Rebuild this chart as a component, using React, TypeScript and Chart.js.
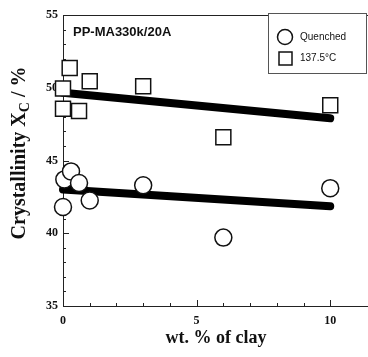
import React, { useEffect, useRef } from "react";
import { Chart, registerables } from "chart.js";

Chart.register(...registerables);

// Clay loading (wt. %) for each sample
const quenchedX = [0, 0.05, 0.3, 0.6, 1.0, 3.0, 6.0, 10.0];
const quenchedY = [41.8, 43.7, 44.25, 43.45, 42.25, 43.3, 39.7, 43.1];

const isoX = [0, 0, 0.25, 0.6, 1.0, 3.0, 6.0, 10.0];
const isoY = [48.55, 49.95, 51.35, 48.4, 50.45, 50.1, 46.6, 48.8];

// Linear trend lines (start, end)
const trendX = [0, 10];
const quenchedTrend = [43.0, 41.85];
const isoTrend = [49.65, 47.9];

const xTickLabels = [0, 5, 10];
const yTickLabels = [35, 40, 45, 50, 55];

const seriesNames = ["Quenched", "137.5°C"];
const panelTitle = "PP-MA330k/20A";

const toPoints = (xs: number[], ys: number[]) => xs.map((x, i) => ({ x, y: ys[i] }));

const axesPlugin = {
  id: "paperAxes",
  beforeDatasetsDraw(chart: any) {
    const { ctx, chartArea, scales } = chart;
    const xs = scales.x;
    const ys = scales.y;
    const { left, top, bottom } = chartArea;
    const right = chart.width;
    ctx.save();

    // frame: left, bottom and top edges
    ctx.strokeStyle = "#222";
    ctx.lineWidth = 1;
    ctx.beginPath();
    ctx.moveTo(left + 0.5, top);
    ctx.lineTo(left + 0.5, bottom + 0.5);
    ctx.lineTo(right, bottom + 0.5);
    ctx.moveTo(left, top + 0.5);
    ctx.lineTo(right, top + 0.5);
    ctx.stroke();

    // inward tick marks
    ctx.beginPath();
    for (let v = 35; v <= 55; v += 1) {
      const py = Math.round(ys.getPixelForValue(v)) + 0.5;
      const len = v % 5 === 0 ? 6 : 3;
      ctx.moveTo(left, py);
      ctx.lineTo(left + len, py);
    }
    for (let v = 0; v <= 10; v += 1) {
      const px = Math.round(xs.getPixelForValue(v)) + 0.5;
      const len = v % 5 === 0 ? 6 : 3;
      ctx.moveTo(px, bottom);
      ctx.lineTo(px, bottom - len);
    }
    ctx.stroke();

    // tick labels
    ctx.fillStyle = "#111";
    ctx.font = "bold 12px 'Liberation Serif', serif";
    ctx.textAlign = "right";
    ctx.textBaseline = "middle";
    yTickLabels.forEach((v) => {
      ctx.fillText(String(v), left - 5, ys.getPixelForValue(v));
    });
    ctx.textAlign = "center";
    ctx.textBaseline = "top";
    xTickLabels.forEach((v) => {
      ctx.fillText(String(v), xs.getPixelForValue(v), bottom + 9);
    });

    // x axis title
    ctx.font = "bold 18px 'Liberation Serif', serif";
    ctx.textBaseline = "middle";
    ctx.fillText("wt. % of clay", 216, 338);

    // y axis title with subscript
    ctx.save();
    ctx.translate(20, 153);
    ctx.rotate(-Math.PI / 2);
    const mainFont = "bold 20px 'Liberation Serif', serif";
    const subFont = "bold 14px 'Liberation Serif', serif";
    ctx.font = mainFont;
    const a = "Crystallinity X";
    const c = " / %";
    const wa = ctx.measureText(a).width;
    const wc = ctx.measureText(c).width;
    ctx.font = subFont;
    const wb = ctx.measureText("C").width;
    const total = wa + wb + wc;
    let cx = -total / 2;
    ctx.textAlign = "left";
    ctx.textBaseline = "middle";
    ctx.font = mainFont;
    ctx.fillText(a, cx, 0);
    cx += wa;
    ctx.font = subFont;
    ctx.fillText("C", cx, 5);
    cx += wb;
    ctx.font = mainFont;
    ctx.fillText(c, cx, 0);
    ctx.restore();

    // panel label
    ctx.font = "bold 13px 'Liberation Sans', Arial, sans-serif";
    ctx.textAlign = "left";
    ctx.textBaseline = "middle";
    ctx.fillText(panelTitle, 73, 32);

    // legend box
    const bx = 268, by = 13, bw = 99, bh = 60;
    ctx.fillStyle = "#fff";
    ctx.fillRect(bx, by, bw, bh);
    ctx.strokeStyle = "#555";
    ctx.lineWidth = 1;
    ctx.strokeRect(bx + 0.5, by + 0.5, bw - 1, bh);
    ctx.strokeStyle = "#111";
    ctx.lineWidth = 1.5;
    ctx.beginPath();
    ctx.arc(285, 37, 7.5, 0, Math.PI * 2);
    ctx.stroke();
    ctx.strokeRect(279, 52, 13, 13);
    ctx.fillStyle = "#111";
    ctx.font = "10px 'Liberation Sans', Arial, sans-serif";
    ctx.fillText(seriesNames[0], 300, 37);
    ctx.fillText(seriesNames[1], 300, 58);

    ctx.restore();
  },
};

export default function App() {
  const canvasRef = useRef<HTMLCanvasElement | null>(null);

  useEffect(() => {
    document.body.style.margin = "0";
    const canvas = canvasRef.current;
    if (!canvas) return;
    const pointStyle = {
      backgroundColor: "#fff",
      borderColor: "#111",
      borderWidth: 1.5,
      showLine: false,
      clip: false,
    };
    const chart = new Chart(canvas, {
      type: "scatter",
      data: {
        datasets: [
          {
            label: seriesNames[0],
            data: toPoints(quenchedX, quenchedY),
            pointStyle: "circle",
            pointRadius: 8.5,
            order: 1,
            ...pointStyle,
          },
          {
            label: seriesNames[1],
            data: toPoints(isoX, isoY),
            pointStyle: "rect",
            pointRadius: 10.6,
            order: 1,
            ...pointStyle,
          },
          {
            type: "line",
            label: "trend-q",
            data: toPoints(trendX, quenchedTrend),
            borderColor: "#000",
            borderWidth: 8,
            borderCapStyle: "round",
            pointRadius: 0,
            clip: false,
            order: 2,
          },
          {
            type: "line",
            label: "trend-i",
            data: toPoints(trendX, isoTrend),
            borderColor: "#000",
            borderWidth: 8,
            borderCapStyle: "round",
            pointRadius: 0,
            clip: false,
            order: 2,
          },
        ],
      } as any,
      options: {
        animation: false,
        responsive: false,
        maintainAspectRatio: false,
        layout: { padding: { left: 63, top: 15, right: 0, bottom: 51 } },
        plugins: { legend: { display: false }, tooltip: { enabled: false } },
        scales: {
          x: { type: "linear", min: 0, max: 10.96, display: false },
          y: { type: "linear", min: 35, max: 55, display: false },
        },
        elements: { point: { hitRadius: 0 } },
      } as any,
      plugins: [axesPlugin],
    });
    return () => chart.destroy();
  }, []);

  return (
    <div style={{ width: 368, height: 357, background: "#fff" }}>
      <canvas ref={canvasRef} width={368} height={357} />
    </div>
  );
}
